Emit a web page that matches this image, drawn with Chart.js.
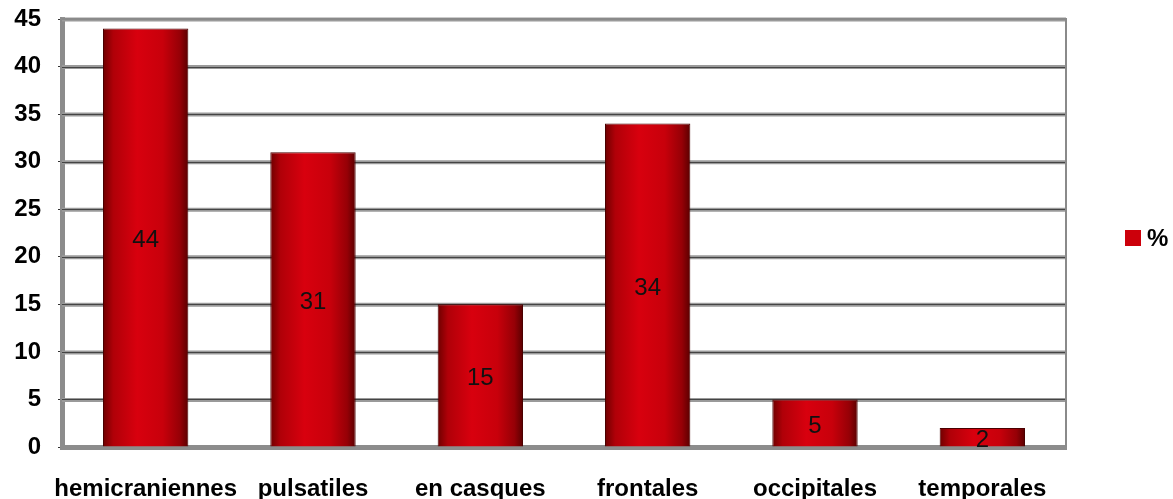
<!DOCTYPE html>
<html>
<head>
<meta charset="utf-8">
<script src="https://cdn.jsdelivr.net/npm/chart.js@4/dist/chart.umd.min.js"></script>
<style>
  html, body { margin: 0; padding: 0; background: #fff; }
  #wrap { width: 1173px; height: 499px; }
</style>
</head>
<body>
<div id="wrap"><canvas id="chart" width="1173" height="499"></canvas></div>
<script>
const categories = ["hemicraniennes", "pulsatiles", "en casques", "frontales", "occipitales", "temporales"];
const percents = [44, 31, 15, 34, 5, 2];
const seriesName = "%";
const yMax = 45;
const yStep = 5;

const FONT = "'Liberation Sans', Arial, sans-serif";

// horizontal shading of each bar, dark edges and bright middle
const cylinderShade = {
    id: "cylinderShade",
    beforeDatasetsDraw(chart){
        const ctx = chart.ctx;
        chart.getDatasetMeta(0).data.forEach(bar => {
            const left = bar.x - bar.width / 2;
            const right = bar.x + bar.width / 2;
            const g = ctx.createLinearGradient(left, 0, right, 0);
            g.addColorStop(0, "#6e0000");
            g.addColorStop(0.12, "#b00008");
            g.addColorStop(0.4, "#d8000e");
            g.addColorStop(0.7, "#c8000b");
            g.addColorStop(0.9, "#960006");
            g.addColorStop(1, "#5a0000");
            bar.options.backgroundColor = g;
        });
    }
};

// gray band round each grid line and the frame around the plot
const frameShadow = {
    id: "frameShadow",
    beforeDatasetsDraw(chart){
        const ctx = chart.ctx;
        const area = chart.chartArea;
        const y = chart.scales.y;
        ctx.save();
        ctx.strokeStyle = "#9a9a9a";
        ctx.lineWidth = 4;
        y.ticks.forEach(t => {
            const py = y.getPixelForValue(t.value);
            if (t.value === 0) return;
            ctx.beginPath();
            ctx.moveTo(area.left, py + 0.5);
            ctx.lineTo(area.right, py + 0.5);
            ctx.stroke();
        });
        ctx.strokeStyle = "#444";
        ctx.lineWidth = 1;
        y.ticks.forEach(t => {
            const py = Math.round(y.getPixelForValue(t.value)) + 0.5;
            if (t.value === 0) return;
            ctx.beginPath();
            ctx.moveTo(area.left, py);
            ctx.lineTo(area.right, py);
            ctx.stroke();
        });
        ctx.strokeStyle = "#8a8a8a";
        ctx.lineWidth = 2;
        ctx.beginPath();
        ctx.moveTo(area.left, area.top);
        ctx.lineTo(area.right, area.top);
        ctx.lineTo(area.right, area.bottom);
        ctx.stroke();
        ctx.restore();
    }
};

// value in the middle of each bar, and the legend on the right
const valueLabels = {
    id: "valueLabels",
    afterDatasetsDraw(chart){
        const ctx = chart.ctx;
        const meta = chart.getDatasetMeta(0);
        ctx.save();
        ctx.font = "24px " + FONT;
        ctx.fillStyle = "#111";
        ctx.textAlign = "center";
        ctx.textBaseline = "middle";
        meta.data.forEach((bar, i) => {
            const mid = (bar.y + bar.base) / 2;
            ctx.fillText(String(percents[i]), bar.x, mid + 3);
        });

        const ds = chart.data.datasets[0];
        ctx.fillStyle = "#cc000b";
        ctx.fillRect(1125, 230, 16, 16);
        ctx.fillStyle = "#000";
        ctx.font = "bold 24px " + FONT;
        ctx.textAlign = "left";
        ctx.fillText(ds.label, 1147, 239);
        ctx.restore();
    }
};

new Chart(
    document.getElementById("chart"),
    {
        type: "bar",
        data: {
            labels: categories,
            datasets: [{
                label: seriesName,
                data: percents,
                backgroundColor: () => "#cc000b",
                borderColor: "#4a0000",
                borderWidth: 1,
                borderSkipped: "bottom",
                categoryPercentage: 1,
                barPercentage: 0.51
            }]
        },
        options: {
            responsive: false,
            animation: false,
            layout: {
                padding: { top: 19, right: 107, bottom: 0, left: 0 }
            },
            plugins: {
                legend: { display: false },
                tooltip: { enabled: false }
            },
            scales: {
                x: {
                    grid: { display: false, drawTicks: false },
                    border: { display: true, color: "#8c8c8c", width: 5 },
                    afterFit(scale){ scale.height = 52; },
                    ticks: {
                        padding: 28,
                        color: "#000",
                        maxRotation: 0,
                        autoSkip: false,
                        font: { family: FONT, size: 24, weight: "bold" }
                    }
                },
                y: {
                    min: 0,
                    max: yMax,
                    afterFit(scale){
                        scale.width = 62;
                        scale.paddingTop = 0;
                        scale.paddingBottom = 0;
                    },
                    ticks: {
                        stepSize: yStep,
                        padding: 17,
                        color: "#000",
                        font: { family: FONT, size: 24, weight: "bold" }
                    },
                    grid: {
                        color: "#333",
                        lineWidth: 1,
                        drawTicks: true,
                        tickLength: 4
                    },
                    border: { display: true, color: "#8c8c8c", width: 5 }
                }
            }
        },
        plugins: [cylinderShade, frameShadow, valueLabels]
    }
);
</script>
</body>
</html>
